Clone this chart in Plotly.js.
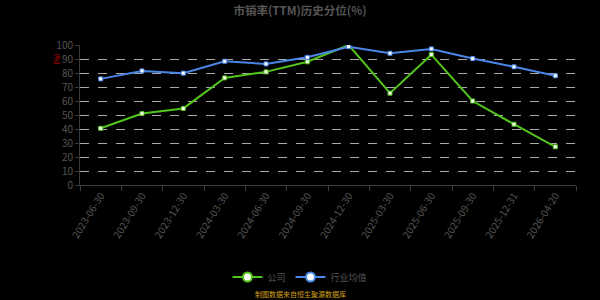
<!DOCTYPE html>
<html><head><meta charset="utf-8">
<script src="https://cdn.plot.ly/plotly-3.0.1.min.js"></script>
<style>html,body{margin:0;padding:0;background:#000;}#c{width:600px;height:300px;}</style>
</head><body><div id="c"></div>
<script>
var dates = ["2023-06-30","2023-09-30","2023-12-30","2024-03-30","2024-06-30","2024-09-30","2024-12-30","2025-03-30","2025-06-30","2025-09-30","2025-12-31","2026-04-20"];
var company = [40.5, 51, 54.7, 76.5, 80.8, 88, 100, 65.6, 93.1, 60, 43.4, 27.3];
var industry = [75.8, 81.5, 79.9, 88.4, 86.5, 91.2, 98.8, 94.1, 97.2, 90.3, 84.4, 78];
var names = ["公司", "行业均值"];
var colors = ["#52c41a", "#4a86e8"];
var yTicks = [0,10,20,30,40,50,60,70,80,90,100];

var font = "'Noto Sans CJK SC', 'Noto Sans', sans-serif";
function lineTrace(y, i) {
  return {x: dates, y: y, type: "scatter", mode: "lines+markers", showlegend: false,
    line: {color: colors[i], width: 2},
    marker: {symbol: "square", size: 4, color: "#fff", line: {color: colors[i], width: 1}},
    hoverinfo: "skip"};
}
function legendTrace(i) {
  return {x: [null], y: [null], type: "scatter", mode: "lines+markers", name: names[i],
    line: {color: colors[i], width: 2},
    marker: {symbol: "circle", size: 9, color: "#fff", line: {color: colors[i], width: 2}}};
}
var data = [lineTrace(company, 0), lineTrace(industry, 1), legendTrace(0), legendTrace(1)];
var layout = {
  width: 600, height: 300,
  paper_bgcolor: "#000", plot_bgcolor: "#000",
  margin: {l: 80, r: 24, t: 45, b: 115},
  font: {family: font, color: "#555", size: 10},
  title: {text: "<b>市销率(TTM)历史分位(%)</b>", x: 0.5, xanchor: "center", xref: "container",
    yref: "container", y: 1 - 11 / 300, yanchor: "middle",
    font: {size: 11.5, color: "#555", family: font}},
  xaxis: {type: "category", showgrid: false, showline: true, linecolor: "#3a3a3a", linewidth: 1,
    ticks: "outside", ticklen: 5, tickcolor: "#3a3a3a", tickson: "boundaries",
    tickangle: -58, tickfont: {size: 10, color: "#555"}, zeroline: false, range: [-0.5, 11.5],
    automargin: false},
  yaxis: {range: [0, 100], tickvals: yTicks, showgrid: true, gridcolor: "#aaa", griddash: "dash", gridwidth: 1,
    showline: true, linecolor: "#3a3a3a", ticks: "outside", ticklen: 4, tickcolor: "#3a3a3a",
    tickfont: {size: 10, color: "#555"}, zeroline: false, fixedrange: true, automargin: false},
  legend: {orientation: "h", xref: "container", yref: "container", x: 0.5, y: 1 - 277 / 300,
    xanchor: "center", yanchor: "middle", itemwidth: 30,
    font: {size: 9, color: "#555"}, bgcolor: "rgba(0,0,0,0)"},
  annotations: [
    {text: "(%)", xref: "paper", yref: "paper", x: (57 - 80) / 496, y: (185 - 58.5) / 140, showarrow: false, textangle: 90,
      font: {size: 7, color: "#d00000"}, xanchor: "center", yanchor: "middle"},
    {text: "制图数据来自恒生聚源数据库", xref: "paper", yref: "paper", x: (300 - 80) / 496, y: (185 - 294) / 140,
      showarrow: false, font: {size: 7, color: "#d4a017"}, xanchor: "center", yanchor: "middle"}
  ]
};
Plotly.newPlot("c", data, layout, {displayModeBar: false, staticPlot: true});
</script></body></html>
